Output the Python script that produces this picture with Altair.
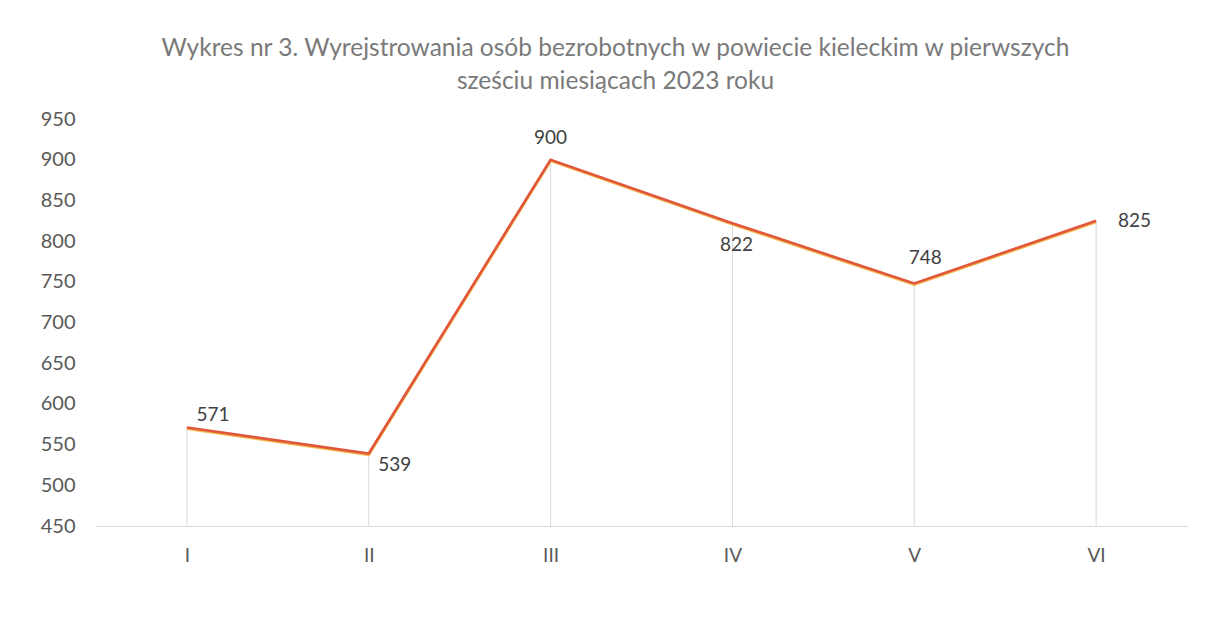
import altair as alt
import pandas as pd

months = ["I", "II", "III", "IV", "V", "VI"]
values = [571, 539, 900, 822, 748, 825]
y_ticks = [450, 500, 550, 600, 650, 700, 750, 800, 850, 900, 950]
title_lines = ["Wykres nr 3. Wyrejstrowania osób bezrobotnych w powiecie kieleckim w pierwszych",
               "sześciu miesiącach 2023 roku"]

df = pd.DataFrame({"m": months, "v": values, "base": [450] * len(months)})

FONT = "Lato"
GRAY = "#595959"

x = alt.X("m:N", sort=months, scale=alt.Scale(type="point", padding=0.5),
          axis=alt.Axis(title=None, labelAngle=0, ticks=False, domainColor="#d9d9d9",
                        labelColor=GRAY, labelFont=FONT, labelFontSize=19, labelPadding=20))
y = alt.Y("v:Q", scale=alt.Scale(domain=[450, 950], nice=False, zero=False),
          axis=alt.Axis(title=None, values=y_ticks, grid=False, domain=False, ticks=False,
                        labelColor=GRAY, labelFont=FONT, labelFontSize=20, labelPadding=21))

base = alt.Chart(df)

drops = base.mark_rule(color="#d9d9d9", strokeWidth=1).encode(x=x, y=y, y2="base:Q")
line_under = base.mark_line(color="#F2B84A", strokeWidth=3, yOffset=1).encode(x=x, y=y)
line = base.mark_line(color="#E0573C", strokeWidth=2.6).encode(x=x, y=y)

offsets = {"I": (26, -13, "center"), "II": (26, 11, "center"), "III": (0, -22, "center"),
           "IV": (4, 22, "center"), "V": (11, -25, "center"), "VI": (22, 0, "left")}
labels = []
for m, (dx, dy, al) in offsets.items():
    labels.append(
        base.transform_filter(alt.datum.m == m)
        .mark_text(font=FONT, fontSize=19, color="#404040", dx=dx, dy=dy, align=al, baseline="middle")
        .encode(x=x, y=y, text="v:Q")
    )

chart = alt.layer(drops, line_under, line, *labels).properties(
    width=1091, height=407,
    background="white",
    autosize=alt.AutoSizeParams(type="none"),
    padding={"left": 88, "top": 111, "right": 10, "bottom": 60},
    title=alt.TitleParams(text=title_lines, font=FONT, fontSize=24.5, fontWeight="normal",
                          color="#7a7a7a", anchor="middle", offset=15, lineHeight=33, dx=-26),
).configure_view(strokeWidth=0, stroke=None)

chart.save("out.html", embed_options={"renderer": "svg", "actions": False})
